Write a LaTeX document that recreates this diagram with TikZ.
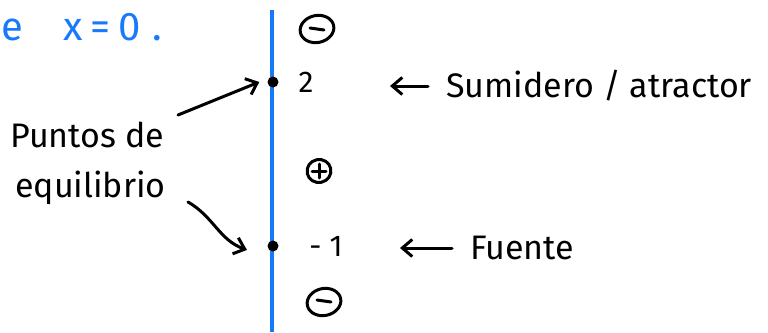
\documentclass[tikz,border=0pt]{standalone}
\usepackage{fontspec}
\setmainfont{Fira Sans}
\usetikzlibrary{positioning,arrows.meta,calc,shapes.geometric}
\definecolor{inkblue}{RGB}{22,122,250}
\tikzset{
  axisline/.style={line width=3.5pt, inkblue},
  eqpt/.style={circle, fill=black, minimum size=11pt, inner sep=0pt},
  val/.style={font=\fontsize{30}{32}\selectfont, anchor=center, inner sep=0pt},
  sgn/.style={ellipse, draw, line width=3pt, minimum width=34pt, minimum height=27pt,
              inner sep=0pt, rotate=12},
  psgn/.style={sgn, minimum width=24pt, minimum height=23pt, rotate=0},
  bar/.style={line width=3pt, line cap=round},
  note/.style={font=\fontsize{34}{36}\selectfont, anchor=west, inner sep=0pt},
  bluenote/.style={note, text=inkblue, font=\fontsize{40}{42}\selectfont},
  ptr/.style={-{Straight Barb[length=3.5mm, width=6mm]}, line width=3pt, line cap=round},
  lptr/.style={-{Straight Barb[length=3.5mm, width=6mm]}, line width=3pt, line cap=round}
}
\begin{document}
\begin{tikzpicture}[x=1pt, y=-1pt]
\useasboundingbox (0,0) rectangle (768,332);
% eje de fases
\coordinate (top) at (272,10);
\coordinate (bot) at (272,332);
\draw[axisline] (top) -- (bot);
\node[eqpt] (p2) at (273,82) {};
\node[eqpt] (pm1) at (273,246) {};
\node[val] (v2) at (306,82) {2};
\node[val] (vm1) at (326,246) {-\hspace{8pt}1};
% signos
\node[sgn] (s1) at (317,29) {};
\node[psgn] (s2) at (319,171) {};
\node[sgn] (s3) at (324,302) {};
\draw[bar] ($(s1.center)+(-7pt,1pt)$) -- ($(s1.center)+(7pt,-1pt)$);
\draw[bar] ($(s2.center)+(-7pt,0)$) -- ($(s2.center)+(7pt,0)$);
\draw[bar] ($(s2.center)+(0,-7pt)$) -- ($(s2.center)+(0,7pt)$);
\draw[bar] ($(s3.center)+(-7pt,2pt)$) -- ($(s3.center)+(7pt,0)$);
% etiquetas
\node[bluenote] (eq) at (1,27) {e\hspace{40pt}x\hspace{8pt}=\hspace{8pt}0\hspace{12pt}.};
\node[note] (sum) at (446,86) {Sumidero / atractor};
\node[note] (fue) at (470,248) {Fuente};
\draw[ptr] (sum.west) ++(-18pt,0) coordinate (a1) -- ++(-38pt,0);
\draw[ptr] (fue.west) ++(-18pt,0) coordinate (a2) -- ++(-52pt,0);
\node[note] (pt1) at (10,135) {Puntos de};
\node[note] (pt2) at (15,188) {equilibrio};
\coordinate (c1) at (178,115);
\coordinate (c2) at (188,202);
\draw[lptr] (c1) -- ($(p2.west)+(-8pt,0)$);
\draw[lptr] (c2) to[out=-30, in=160] ($(pm1.north west)+(-22pt,-8pt)$);
\end{tikzpicture}
\end{document}
